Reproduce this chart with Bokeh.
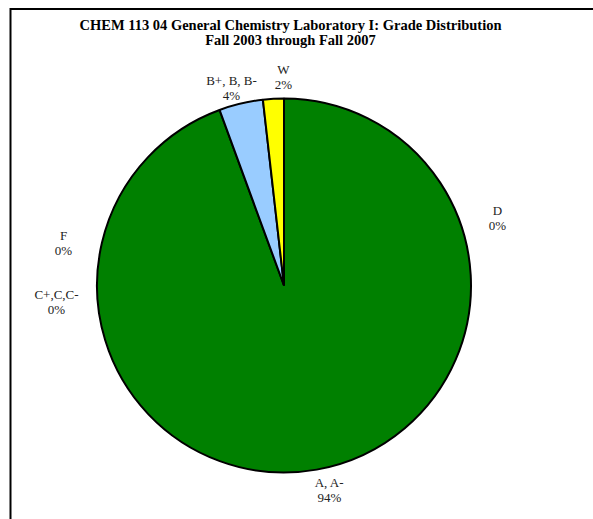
import math
from bokeh.plotting import figure
from bokeh.models import Range1d, ColumnDataSource
from bokeh.core.properties import value
from bokeh.embed import file_html
from bokeh.resources import INLINE

# Grade distribution, CHEM 113 04, Fall 2003 - Fall 2007 (percent of students)
grades = ["A, A-", "B+, B, B-", "C+,C,C-", "D", "F", "W"]
percents = [94.4, 3.8, 0.0, 0.0, 0.0, 1.8]
colors = ["#008000", "#99CCFF", "#FF99CC", "#FFCC99", "#CC99FF", "#FFFF00"]

title_lines = ["CHEM 113 04 General Chemistry Laboratory I: Grade Distribution",
               "Fall 2003 through Fall 2007"]

W, H = 593, 519
CX, CY, R = 283.5, H - 285, 187

p = figure(width=W, height=H, output_backend="svg", toolbar_location=None,
           x_range=Range1d(0, W), y_range=Range1d(0, H), min_border=0,
           background_fill_color="white", border_fill_color="white")
p.axis.visible = False
p.grid.visible = False
p.outline_line_color = None

# chart area border (left and top edges)
p.line(x=[10, 10, W + 20], y=[-20, H - 8.5, H - 8.5], line_color="black",
       line_width=2, line_join="miter")

# slices: clockwise from 12 o'clock, in category order
total = sum(percents)
starts, ends, keep = [], [], []
cum = 0.0
for i, v in enumerate(percents):
    a0 = math.pi / 2 - 2 * math.pi * (cum + v) / total
    a1 = math.pi / 2 - 2 * math.pi * cum / total
    cum += v
    if v > 0:
        keep.append(i)
        starts.append(a0)
        ends.append(a1)

src = ColumnDataSource(dict(
    start=starts, end=ends,
    color=[colors[i] for i in keep],
    grade=[grades[i] for i in keep],
))
p.wedge(x=CX, y=CY, radius=R, start_angle="start", end_angle="end",
        direction="anticlock", fill_color="color", line_color="black",
        line_width=2, source=src)

# data labels: category name above, rounded percent below
label_pos = {
    "A, A-": (329, 482),
    "B+, B, B-": (231, 80),
    "C+,C,C-": (56, 294),
    "D": (497, 210),
    "F": (63, 235),
    "W": (283, 69),
}
lx, ly, lt = [], [], []
for g, v in zip(grades, percents):
    x, y = label_pos[g]
    lx += [x, x]
    ly += [H - y, H - y - 15]
    lt += [g, f"{round(v)}%"]
p.text(x=lx, y=ly, text=lt, text_align="center", text_baseline="middle",
       text_font=value("Liberation Serif"), text_font_size="13px",
       text_color="#222222")

p.text(x=[290, 290], y=[H - 24, H - 39.5], text=title_lines,
       text_align="center", text_baseline="middle",
       text_font=value("Liberation Serif"), text_font_size="14.5px",
       text_font_style="bold", text_color="black")

open("out.html", "w").write(file_html(p, INLINE))
